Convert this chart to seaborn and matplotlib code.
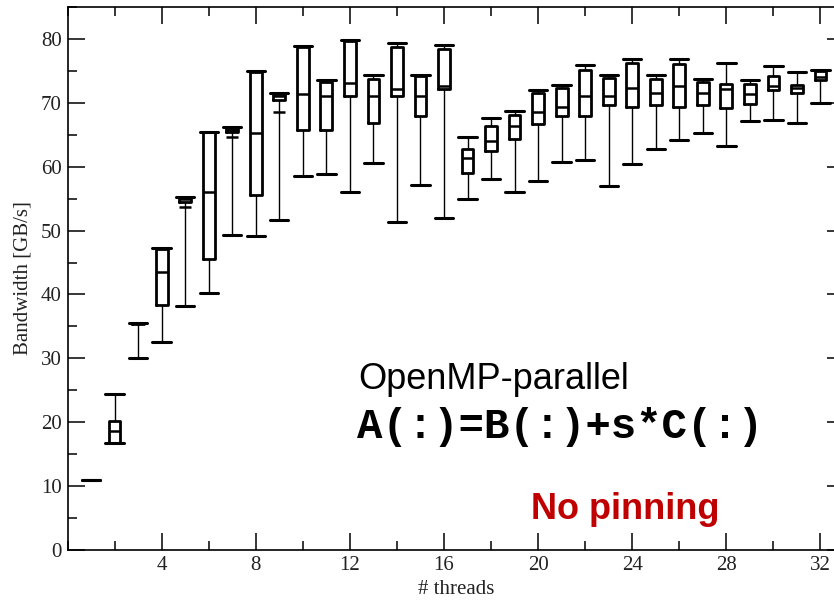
import numpy as np
import pandas as pd
import matplotlib
matplotlib.use("Agg")
import matplotlib.pyplot as plt
import seaborn as sns
from matplotlib.ticker import MultipleLocator

# ---- data ----
threads = list(range(1, 33))
bw_min = [11.0, 16.7, 30.1, 32.5, 38.2, 40.2, 49.3, 49.1, 51.7, 58.5, 58.8, 56.0, 60.6, 51.4, 57.2, 51.9,
          55.0, 58.0, 56.0, 57.8, 60.8, 61.0, 57.0, 60.5, 62.7, 64.2, 65.2, 63.2, 67.1, 67.3, 66.9, 69.9]
bw_q1 = [11.0, 16.8, 35.3, 38.3, 54.5, 45.5, 65.4, 55.6, 70.5, 65.7, 65.7, 71.0, 66.9, 71.1, 67.9, 72.2,
         59.0, 62.5, 64.3, 66.7, 67.9, 67.9, 69.6, 69.3, 69.6, 69.4, 69.6, 69.2, 69.8, 72.0, 71.5, 73.5]
bw_med = [11.0, 18.6, 35.5, 43.5, 55.0, 56.1, 65.7, 65.3, 71.0, 71.4, 71.1, 73.1, 71.0, 72.1, 71.1, 72.7,
          61.3, 64.1, 66.3, 68.5, 69.3, 71.1, 71.0, 72.3, 71.6, 72.7, 71.6, 72.2, 71.4, 72.6, 72.3, 74.1]
bw_q3 = [11.0, 20.2, 35.5, 47.1, 55.2, 65.4, 66.0, 74.9, 71.4, 78.8, 73.3, 79.6, 73.8, 78.8, 74.2, 78.5,
         62.7, 66.3, 68.1, 71.5, 72.3, 75.1, 73.9, 76.2, 73.7, 76.0, 73.2, 72.9, 72.9, 74.2, 72.8, 75.0]
bw_max = [11.0, 24.4, 35.6, 47.2, 55.3, 65.5, 66.2, 75.0, 71.5, 78.9, 73.5, 79.9, 74.3, 79.4, 74.4, 79.0,
          64.6, 67.6, 68.7, 72.0, 72.8, 75.9, 74.3, 76.8, 74.3, 76.8, 73.7, 76.3, 73.6, 75.7, 74.9, 75.1]
# extra short marks below the compressed boxes
extra_threads = [5, 7, 9]
extra_vals = [53.7, 64.7, 68.6]

xticks = [4, 8, 12, 16, 20, 24, 28, 32]
yticks = [0, 10, 20, 30, 40, 50, 60, 70, 80]

# long table: five order statistics per thread reproduce exact box stats
rows = []
for t, a, b, c, d, e in zip(threads, bw_min, bw_q1, bw_med, bw_q3, bw_max):
    for v in (a, b, c, d, e):
        rows.append({"threads": t, "bw": v})
df = pd.DataFrame(rows)

sns.set_theme(style="white")
plt.rcParams["font.family"] = ["Liberation Serif", "DejaVu Serif"]

W, H = 834, 600
fig = plt.figure(figsize=(W / 100, H / 100), dpi=100)
fig.patch.set_facecolor("white")
x0, x1, y0, y1 = 67.5, 844.0, 550.0, 7.0
ax = fig.add_axes([x0 / W, 1 - y0 / H, (x1 - x0) / W, (y0 - y1) / H])
ax.set_facecolor("white")

sns.boxplot(data=df, x="threads", y="bw", native_scale=True, whis=(0, 100),
            width=0.5, fill=False, color="black", linecolor="black",
            showfliers=False, capwidths=0.78,
            boxprops=dict(linewidth=2.0, color="black"),
            medianprops=dict(linewidth=1.8, color="black"),
            whiskerprops=dict(linewidth=1.0, color="black"),
            capprops=dict(linewidth=2.2, color="black"),
            ax=ax)

sns.scatterplot(x=extra_threads, y=extra_vals, marker="_", s=80, linewidth=1.8,
                color="black", ax=ax, legend=False)

ax.set_xlim(0, 33)
ax.set_ylim(0, 85)
ax.set_xticks(xticks)
ax.set_xticklabels([str(v) for v in xticks])
ax.set_yticks(yticks)
ax.set_yticklabels([str(v) for v in yticks])
ax.xaxis.set_minor_locator(MultipleLocator(2))
ax.yaxis.set_minor_locator(MultipleLocator(5))
ax.tick_params(which="both", direction="in", top=True, right=True, bottom=True, left=True,
               width=1.1, color="black", labelsize=15, labelcolor="#222222", pad=4)
ax.tick_params(which="major", length=12)
ax.tick_params(which="minor", length=6.5)
for s in ax.spines.values():
    s.set_visible(True)
    s.set_linewidth(1.2)
    s.set_color("black")

ax.set_xlabel("# threads", fontsize=15, labelpad=4, color="#222222")
ax.set_ylabel("Bandwidth [GB/s]", fontsize=15, labelpad=6, color="#222222")
ax.grid(False)

fig.text(358 / W, 1 - 389 / H, "OpenMP-parallel", fontsize=26, family="Liberation Sans",
         va="baseline", ha="left", color="black")
fig.text(357 / W, 1 - 438 / H, "A(:)=B(:)+s*C(:)", fontsize=30.5, family="Liberation Mono",
         fontweight="bold", va="baseline", ha="left", color="black")
fig.text(531 / W, 1 - 519 / H, "No pinning", fontsize=26, family="Liberation Sans",
         fontweight="bold", va="baseline", ha="left", color="#C00000")

fig.savefig("out.png", dpi=100)
